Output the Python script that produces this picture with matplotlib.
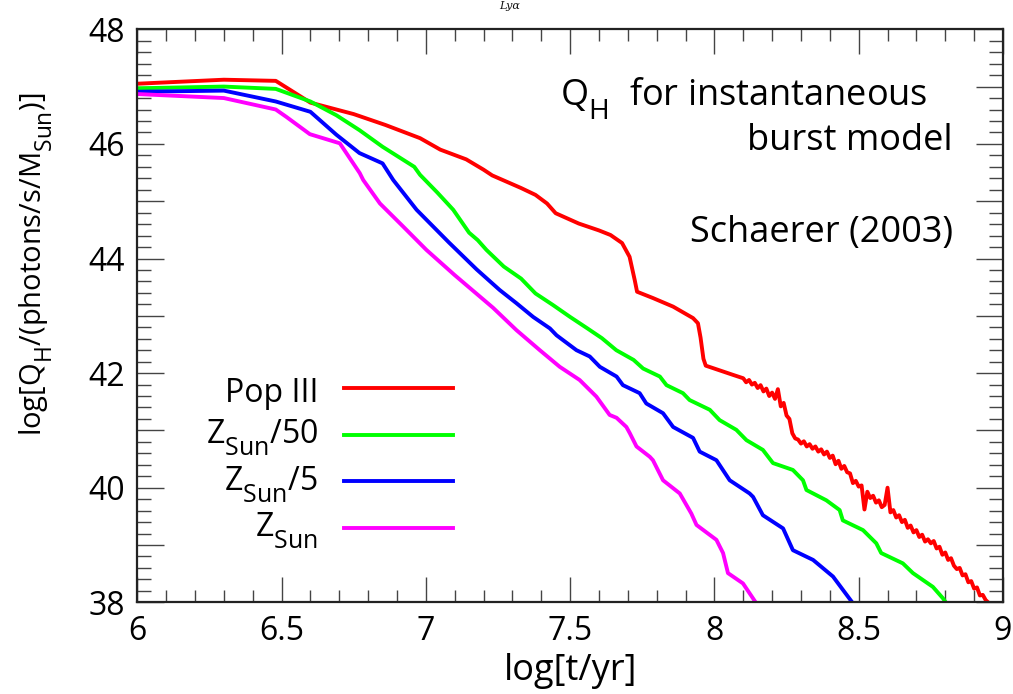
import matplotlib
matplotlib.use("Agg")
import matplotlib.pyplot as plt
import matplotlib._mathtext as mtx
from matplotlib.ticker import MultipleLocator, FuncFormatter

plt.rcParams['font.family'] = ['Open Sans', 'DejaVu Sans']
plt.rcParams['mathtext.fontset'] = 'custom'
plt.rcParams['mathtext.rm'] = 'Open Sans'
plt.rcParams['mathtext.it'] = 'Open Sans:italic'
plt.rcParams['mathtext.bf'] = 'Open Sans:bold'
# larger, lower subscripts like the reference typesetting
mtx.SHRINK_FACTOR = 0.78
mtx.FontConstantsBase.sub1 = 0.7

# ---------------- data ----------------
red_x = [6.00, 6.30, 6.48, 6.60, 6.75, 6.86, 6.98, 7.05, 7.14, 7.20, 7.23, 7.33, 7.38,
         7.42, 7.45, 7.53, 7.60, 7.64, 7.68, 7.706, 7.724, 7.732, 7.787, 7.857, 7.926,
         7.943, 7.952, 7.962, 7.970, 8.064,
         8.10, 8.11, 8.12, 8.13, 8.14, 8.15, 8.16, 8.17, 8.18, 8.19, 8.20, 8.21, 8.22,
         8.23, 8.24, 8.25, 8.26, 8.27, 8.28, 8.29, 8.30, 8.31, 8.32, 8.33, 8.34, 8.35,
         8.36, 8.37, 8.38, 8.39, 8.40, 8.41, 8.42, 8.43, 8.44, 8.45, 8.46, 8.47, 8.48,
         8.49, 8.50, 8.51, 8.52, 8.53, 8.54, 8.55, 8.56, 8.57, 8.58, 8.59, 8.60, 8.61,
         8.62, 8.63, 8.64, 8.65, 8.66, 8.67, 8.68, 8.69, 8.70, 8.71, 8.72, 8.73, 8.74,
         8.75, 8.76, 8.77, 8.78, 8.79, 8.80, 8.81, 8.82, 8.83, 8.84, 8.85, 8.86, 8.87,
         8.88, 8.89, 8.90, 8.91, 8.92, 8.93, 8.94, 8.955]
red_y = [47.05, 47.12, 47.10, 46.72, 46.52, 46.33, 46.10, 45.90, 45.73, 45.55, 45.45, 45.23, 45.11,
         44.96, 44.79, 44.61, 44.49, 44.41, 44.27, 44.03, 43.62, 43.42, 43.31, 43.16, 42.96,
         42.87, 42.62, 42.25, 42.13, 41.97,
         41.91, 41.84, 41.88, 41.80, 41.83, 41.74, 41.79, 41.68, 41.73, 41.60, 41.66, 41.55, 41.72,
         41.42, 41.48, 41.26, 41.20, 40.95, 40.86, 40.84, 40.77, 40.81, 40.72, 40.76, 40.68, 40.72,
         40.63, 40.67, 40.58, 40.63, 40.52, 40.56, 40.41, 40.47, 40.33, 40.38, 40.27, 40.25, 40.08,
         40.12, 40.02, 40.04, 39.62, 39.93, 39.82, 39.86, 39.74, 39.78, 39.66, 39.70, 40.00, 39.57,
         39.61, 39.48, 39.52, 39.40, 39.44, 39.30, 39.34, 39.22, 39.26, 39.14, 39.18, 39.06, 39.10,
         39.03, 39.07, 38.94, 38.97, 38.83, 38.87, 38.74, 38.77, 38.64, 38.58, 38.60, 38.47, 38.49,
         38.35, 38.37, 38.24, 38.26, 38.12, 38.13, 38.04, 37.97]

green_x = [6.00, 6.30, 6.48, 6.60, 6.69, 6.77, 6.85, 6.96, 6.98, 7.04, 7.095, 7.15,
           7.18, 7.21, 7.27, 7.33, 7.38, 7.44, 7.50, 7.56, 7.61, 7.66, 7.72, 7.753, 7.811,
           7.834, 7.891, 7.914, 7.984, 8.018, 8.076, 8.111, 8.168, 8.203, 8.272, 8.307,
           8.319, 8.388, 8.434, 8.445, 8.515, 8.561, 8.578, 8.653, 8.688, 8.757, 8.792, 8.806]
green_y = [46.97, 47.00, 46.96, 46.74, 46.50, 46.24, 45.95, 45.60, 45.46, 45.15, 44.85, 44.45,
           44.32, 44.15, 43.86, 43.65, 43.39, 43.19, 42.98, 42.78, 42.61, 42.40, 42.23, 42.08, 41.94,
           41.79, 41.65, 41.53, 41.36, 41.18, 41.01, 40.83, 40.66, 40.43, 40.31, 40.13,
           39.96, 39.78, 39.61, 39.43, 39.26, 39.03, 38.86, 38.68, 38.51, 38.27, 38.07, 37.97]

blue_x = [6.00, 6.30, 6.48, 6.60, 6.69, 6.77, 6.85, 6.887, 6.968, 7.08, 7.176, 7.256, 7.314,
          7.372, 7.430, 7.453, 7.522, 7.568, 7.603, 7.661, 7.683, 7.741, 7.764, 7.822, 7.857,
          7.926, 7.949, 8.007, 8.053, 8.122, 8.134, 8.168, 8.238, 8.272, 8.342, 8.411, 8.482]
blue_y = [46.91, 46.93, 46.74, 46.56, 46.16, 45.84, 45.66, 45.37, 44.85, 44.28, 43.81, 43.45, 43.22,
          42.98, 42.78, 42.66, 42.40, 42.29, 42.11, 41.94, 41.79, 41.65, 41.47, 41.30, 41.06,
          40.87, 40.63, 40.48, 40.13, 39.90, 39.84, 39.52, 39.29, 38.91, 38.74, 38.45, 37.97]

mag_x = [6.00, 6.30, 6.48, 6.517, 6.598, 6.702, 6.771, 6.783, 6.841, 6.921, 7.002, 7.10,
         7.233, 7.314, 7.395, 7.464, 7.533, 7.591, 7.637, 7.661, 7.695, 7.707, 7.730, 7.776,
         7.787, 7.822, 7.880, 7.920, 7.938, 8.007, 8.030, 8.047, 8.099, 8.147]
mag_y = [46.87, 46.80, 46.60, 46.47, 46.17, 46.01, 45.49, 45.37, 44.96, 44.56, 44.15, 43.71,
         43.14, 42.75, 42.40, 42.11, 41.88, 41.59, 41.27, 41.22, 41.06, 40.95, 40.72, 40.54,
         40.48, 40.13, 39.90, 39.55, 39.35, 39.09, 38.86, 38.51, 38.33, 37.97]

series_labels = ["Pop III", r"$\mathregular{Z_{Sun}}$/50", r"$\mathregular{Z_{Sun}}$/5",
                 r"$\mathregular{Z_{Sun}}$"]
series_colors = ["#ff0000", "#00ff00", "#0000ff", "#ff00ff"]

x_label = "log[t/yr]"
y_label = r"log[$\mathregular{Q_H}$/(photons/s/$\mathregular{M_{Sun}}$)]"

# ---------------- figure ----------------
fig = plt.figure(figsize=(10.13, 6.94), dpi=100)
ax = fig.add_axes([0.1355, 0.1321, 0.8546, 0.8257])

series = [(red_x, red_y), (green_x, green_y), (blue_x, blue_y), (mag_x, mag_y)]
lw = 2.8
for (xs, ys), c in zip(series, series_colors):
    ax.plot(xs, ys, color=c, lw=lw, solid_joinstyle='round', solid_capstyle='round')

ax.set_xlim(6, 9)
ax.set_ylim(38, 48)

ax.xaxis.set_major_locator(MultipleLocator(0.5))
ax.xaxis.set_minor_locator(MultipleLocator(0.1))
ax.yaxis.set_major_locator(MultipleLocator(1))
ax.yaxis.set_minor_locator(MultipleLocator(0.2))
ax.xaxis.set_major_formatter(FuncFormatter(lambda v, p: "%g" % v))
ax.yaxis.set_major_formatter(FuncFormatter(lambda v, p: "%d" % round(v) if round(v) % 2 == 0 else ""))

tick_col = "#444444"
ax.tick_params(which='both', direction='in', top=True, right=True, color=tick_col,
               width=1.0, labelsize=23, labelcolor='black')
ax.tick_params(axis='x', which='major', length=18, pad=9)
ax.tick_params(axis='x', which='minor', length=8.6)
ax.tick_params(axis='y', which='major', length=19.5, pad=9)
ax.tick_params(axis='y', which='minor', length=10)

for s in ax.spines.values():
    s.set_linewidth(1.6)
    s.set_color('#222222')

ax.set_xlabel(x_label, fontsize=26, labelpad=4)
ax.set_ylabel(y_label, fontsize=21)
ax.yaxis.set_label_coords(-0.095, 0.59)

# annotations
ax.text(0.9133, 0.8679, r"$\mathregular{Q_H}$  for instantaneous", transform=ax.transAxes,
        ha='right', va='baseline', fontsize=26)
ax.text(0.9422, 0.7894, "burst model", transform=ax.transAxes,
        ha='right', va='baseline', fontsize=26)
ax.text(0.9422, 0.6293, "Schaerer (2003)", transform=ax.transAxes,
        ha='right', va='baseline', fontsize=26)

# hand-made legend
leg_line_y = [0.3735, 0.292, 0.2117, 0.130]
leg_text_y = [0.350, 0.2775, 0.196, 0.1145]
for lab, c, ly, ty in zip(series_labels, series_colors, leg_line_y, leg_text_y):
    ax.plot([0.239, 0.365], [ly, ly], transform=ax.transAxes, color=c, lw=lw)
    ax.text(0.209, ty, lab, transform=ax.transAxes, ha='right', va='baseline', fontsize=23)

# slide fragment above the frame (title remnant)
fig.text(0.503, 1 - 1 / 694, "Lyα", family='DejaVu Serif', style='italic', fontsize=8,
         ha='center', va='top', color='#111111')

fig.savefig("out.png", dpi=100)
